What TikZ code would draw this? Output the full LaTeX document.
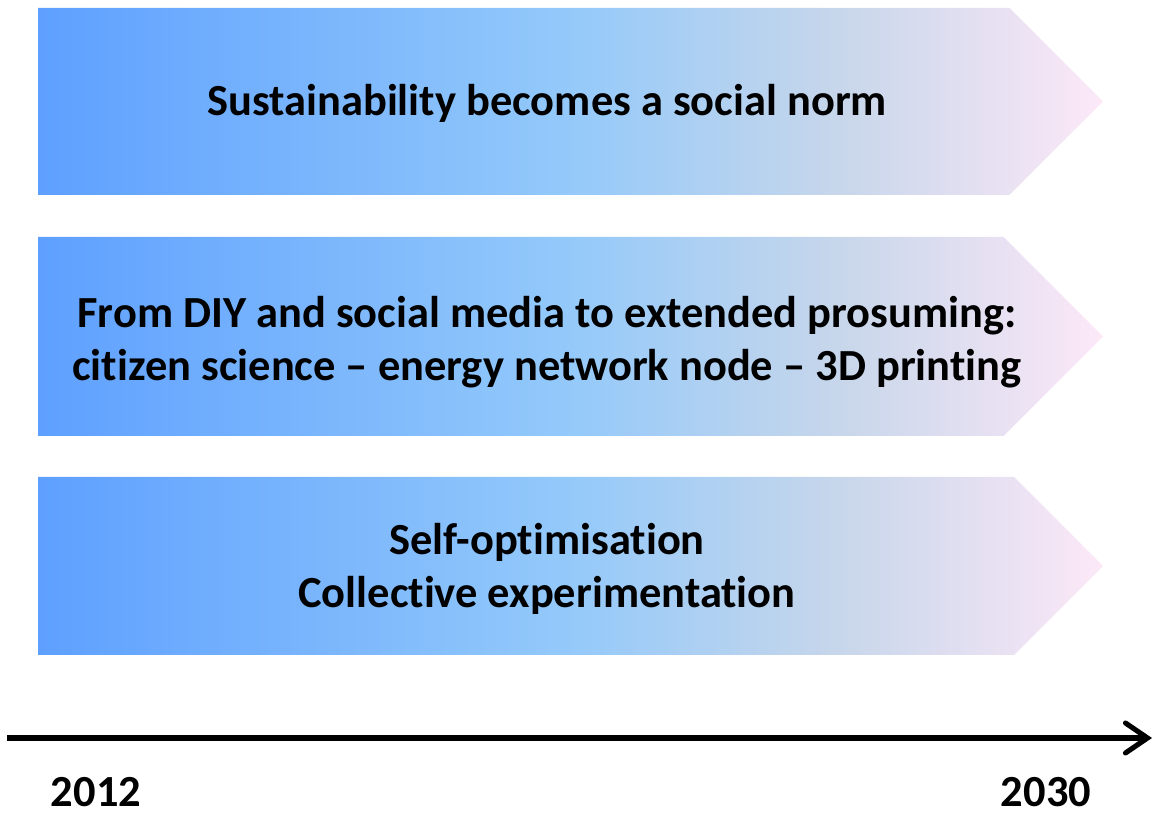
\documentclass[tikz,border=0pt]{standalone}
\usepackage{fontspec}
\setmainfont{Carlito}[Ligatures=NoCommon]
\usepackage{tikz}
\usetikzlibrary{arrows.meta}

\pgfdeclarehorizontalshading{timefade}{100bp}{
  rgb(0bp)=(0.369,0.627,1); rgb(25bp)=(0.369,0.627,1);
  rgb(50bp)=(0.58,0.79,0.98); rgb(62.5bp)=(0.78,0.84,0.92);
  rgb(75bp)=(0.99,0.91,0.97); rgb(100bp)=(0.99,0.91,0.97)}

\tikzset{
  boxtext/.style={align=center,font=\fontsize{12.65}{14.9}\selectfont\bfseries},
  yeartext/.style={inner sep=0pt,font=\fontsize{12.65}{14.9}\selectfont\bfseries}
}

\begin{document}
\begin{tikzpicture}
\useasboundingbox (0,0) rectangle (11.57,8.14);
\foreach \top/\bot in {8.06/6.19,5.77/3.78,3.37/1.59}
  \shade[shading=timefade]
    (0.38,\top) -- ({11.03-(\top-\bot)/2},\top) -- (11.03,{(\top+\bot)/2})
    -- ({11.03-(\top-\bot)/2},\bot) -- (0.38,\bot) -- cycle;
\node[boxtext] (norm) at (5.47,7.11) {Sustainability becomes a social norm};
\node[boxtext] (prosume) at (5.47,4.72) {From DIY and social media to extended prosuming:\\citizen science -- energy network node -- 3D printing};
\node[boxtext] (selfopt) at (5.47,2.45) {Self-optimisation\\Collective experimentation};
\coordinate (start) at (0.07,0.76);
\coordinate (end) at (11.52,0.76);
\draw[line width=1.45pt,-{Straight Barb[length=0.22cm,width=0.3cm,line cap=round]}] (start) -- (end);
\node[yeartext] (y2012) at (0.96,0.215) {2012};
\node[yeartext] (y2030) at (10.46,0.215) {2030};
\end{tikzpicture}
\end{document}
